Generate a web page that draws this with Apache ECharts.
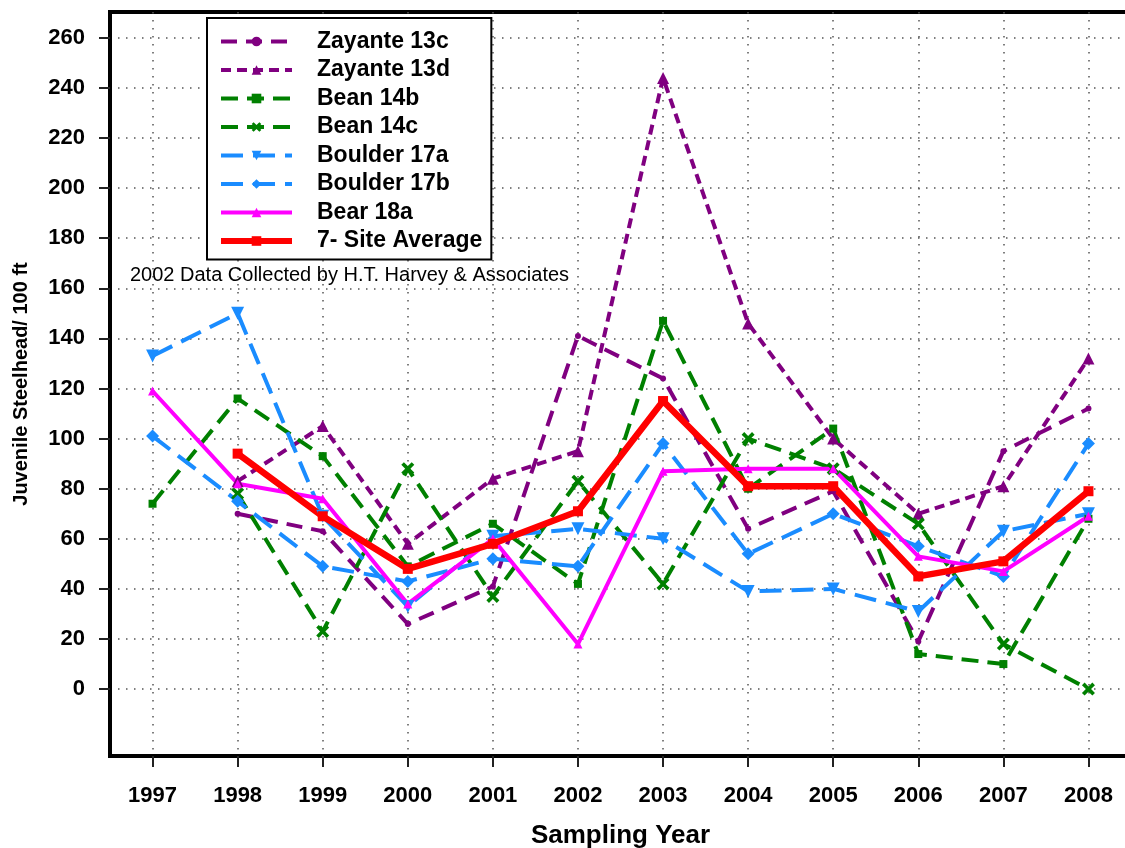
<!DOCTYPE html>
<html>
<head>
<meta charset="utf-8">
<script src="https://cdn.jsdelivr.net/npm/echarts@6/dist/echarts.min.js"></script>
<style>
    html, body {margin: 0; padding: 0; background: #fff;}
    #main {width: 1125px; height: 848px;}
</style>
</head>
<body>
<div id="main"></div>
<script>
let years = [1997, 1998, 1999, 2000, 2001, 2002, 2003, 2004, 2005, 2006, 2007, 2008];
let yTicks = [0, 20, 40, 60, 80, 100, 120, 140, 160, 180, 200, 220, 240, 260];

let zayante13c = [null, 70, 63, 26, 41, 141, 124, 64, 79, 19, 95, 112];
let zayante13d = [null, 83, 105, 58, 84, 95, 244, 146, 100, 70, 81, 132];
let bean14b = [74, 116, 93, 49, 66, 42, 147, 80, 104, 14, 10, 68];
let bean14c = [null, 78, 23, 88, 37, 83, 42, 100, 88, 66, 18, 0];
let boulder17a = [133, 150, 69, 33, 61, 64, 60, 39, 40, 31, 63, 70];
let boulder17b = [101, 75, 49, 43, 52, 49, 98, 54, 70, 57, 45, 98];
let bear18a = [119, 82, 76, 34, 60, 18, 87, 88, 88, 53, 47, 69];
let siteAverage = [null, 94, 69, 48, 58, 71, 115, 81, 81, 45, 51, 79];

let font = 'Liberation Sans, Arial, sans-serif';
let xMark = 'path://M0,2 L2,0 L5,3 L8,0 L10,2 L7,5 L10,8 L8,10 L5,7 L2,10 L0,8 L3,5 Z';

function pairs(vals) {
    return years.map((y, i) => [y, vals[i]]);
}

function line(name, vals, color, width, dash, symbol, size, rotate) {
    return {
        name: name,
        type: 'line',
        data: pairs(vals),
        connectNulls: false,
        symbol: symbol,
        symbolSize: size,
        symbolRotate: rotate || 0,
        showSymbol: true,
        lineStyle: {color: color, width: width, type: dash},
        itemStyle: {color: color, borderWidth: 0},
        emphasis: {disabled: true},
        animation: false
    };
}

let series = [
    line('Zayante 13c', zayante13c, '#800080', 4, [16, 9], 'circle', 6),
    line('Zayante 13d', zayante13d, '#800080', 4, [10, 6], 'triangle', 12),
    line('Bean 14b', bean14b, '#008000', 4, [17, 9], 'rect', 8),
    line('Bean 14c', bean14c, '#008000', 4, [17, 9], xMark, 13),
    line('Boulder 17a', boulder17a, '#1a8cff', 4, [22, 10], 'triangle', 13, 180),
    line('Boulder 17b', boulder17b, '#1a8cff', 4, [22, 10], 'diamond', 13),
    line('Bear 18a', bear18a, '#ff00ff', 4, 'solid', 'triangle', 9),
    line('7- Site Average', siteAverage, '#ff0000', 6.5, 'solid', 'rect', 10)
];

let legendItems = series.map(s => ({
    name: s.name,
    lineStyle: {width: s.name === '7- Site Average' ? 6 : 4}
}));

let chart = echarts.init(document.getElementById('main'));
chart.setOption({
    backgroundColor: '#fff',
    animation: false,
    grid: {
        left: 110, top: 12, width: 1021, height: 744,
        outerBoundsMode: 'none',
        containLabel: false,
        show: true, borderColor: '#000', borderWidth: 4, backgroundColor: 'transparent'
    },
    legend: {
        data: legendItems,
        left: 207, top: 18,
        orient: 'vertical',
        z: 10,
        backgroundColor: '#fff',
        borderColor: '#000',
        borderWidth: 2,
        borderRadius: 0,
        padding: [12, 9, 7, 11],
        itemWidth: 71,
        itemHeight: 12,
        itemGap: 5.5,
        textStyle: {fontFamily: font, fontWeight: 'bold', fontSize: 23, lineHeight: 23, color: '#000', padding: [0, 0, 0, 20]},
        selectedMode: false
    },
    xAxis: {
        type: 'value',
        min: 1996.5,
        max: 2008.5,
        name: 'Sampling Year',
        nameLocation: 'middle',
        nameGap: 67,
        nameTextStyle: {fontFamily: font, fontWeight: 'bold', fontSize: 26, color: '#000'},
        axisLine: {show: true, onZero: false, lineStyle: {color: '#000', width: 4}},
        axisTick: {show: true, customValues: years, length: 11, lineStyle: {color: '#222', width: 2}},
        axisLabel: {
            customValues: years, margin: 29,
            fontFamily: font, fontWeight: 'bold', fontSize: 22, color: '#000',
            formatter: v => String(v)
        },
        splitLine: {show: true, lineStyle: {color: '#555', width: 1.5, type: [1.5, 6.5]}}
    },
    yAxis: {
        type: 'value',
        min: -26.7,
        max: 270.3,
        name: 'Juvenile Steelhead/ 100 ft',
        nameLocation: 'middle',
        nameGap: 79,
        nameTextStyle: {fontFamily: font, fontWeight: 'bold', fontSize: 20, color: '#000'},
        axisLine: {show: true, onZero: false, lineStyle: {color: '#000', width: 4}},
        axisTick: {show: true, customValues: yTicks, length: 11, lineStyle: {color: '#222', width: 2}},
        axisLabel: {customValues: yTicks, margin: 25, fontFamily: font, fontWeight: 'bold', fontSize: 22, color: '#000'},
        splitLine: {show: true, lineStyle: {color: '#555', width: 1.5, type: [1.5, 6.5]}}
    },
    graphic: [{
        type: 'text',
        left: 130,
        top: 265,
        z: 100,
        style: {text: '2002 Data Collected by H.T. Harvey & Associates', font: '20px ' + font, fill: '#000'}
    }],
    series: series
});
</script>
</body>
</html>
